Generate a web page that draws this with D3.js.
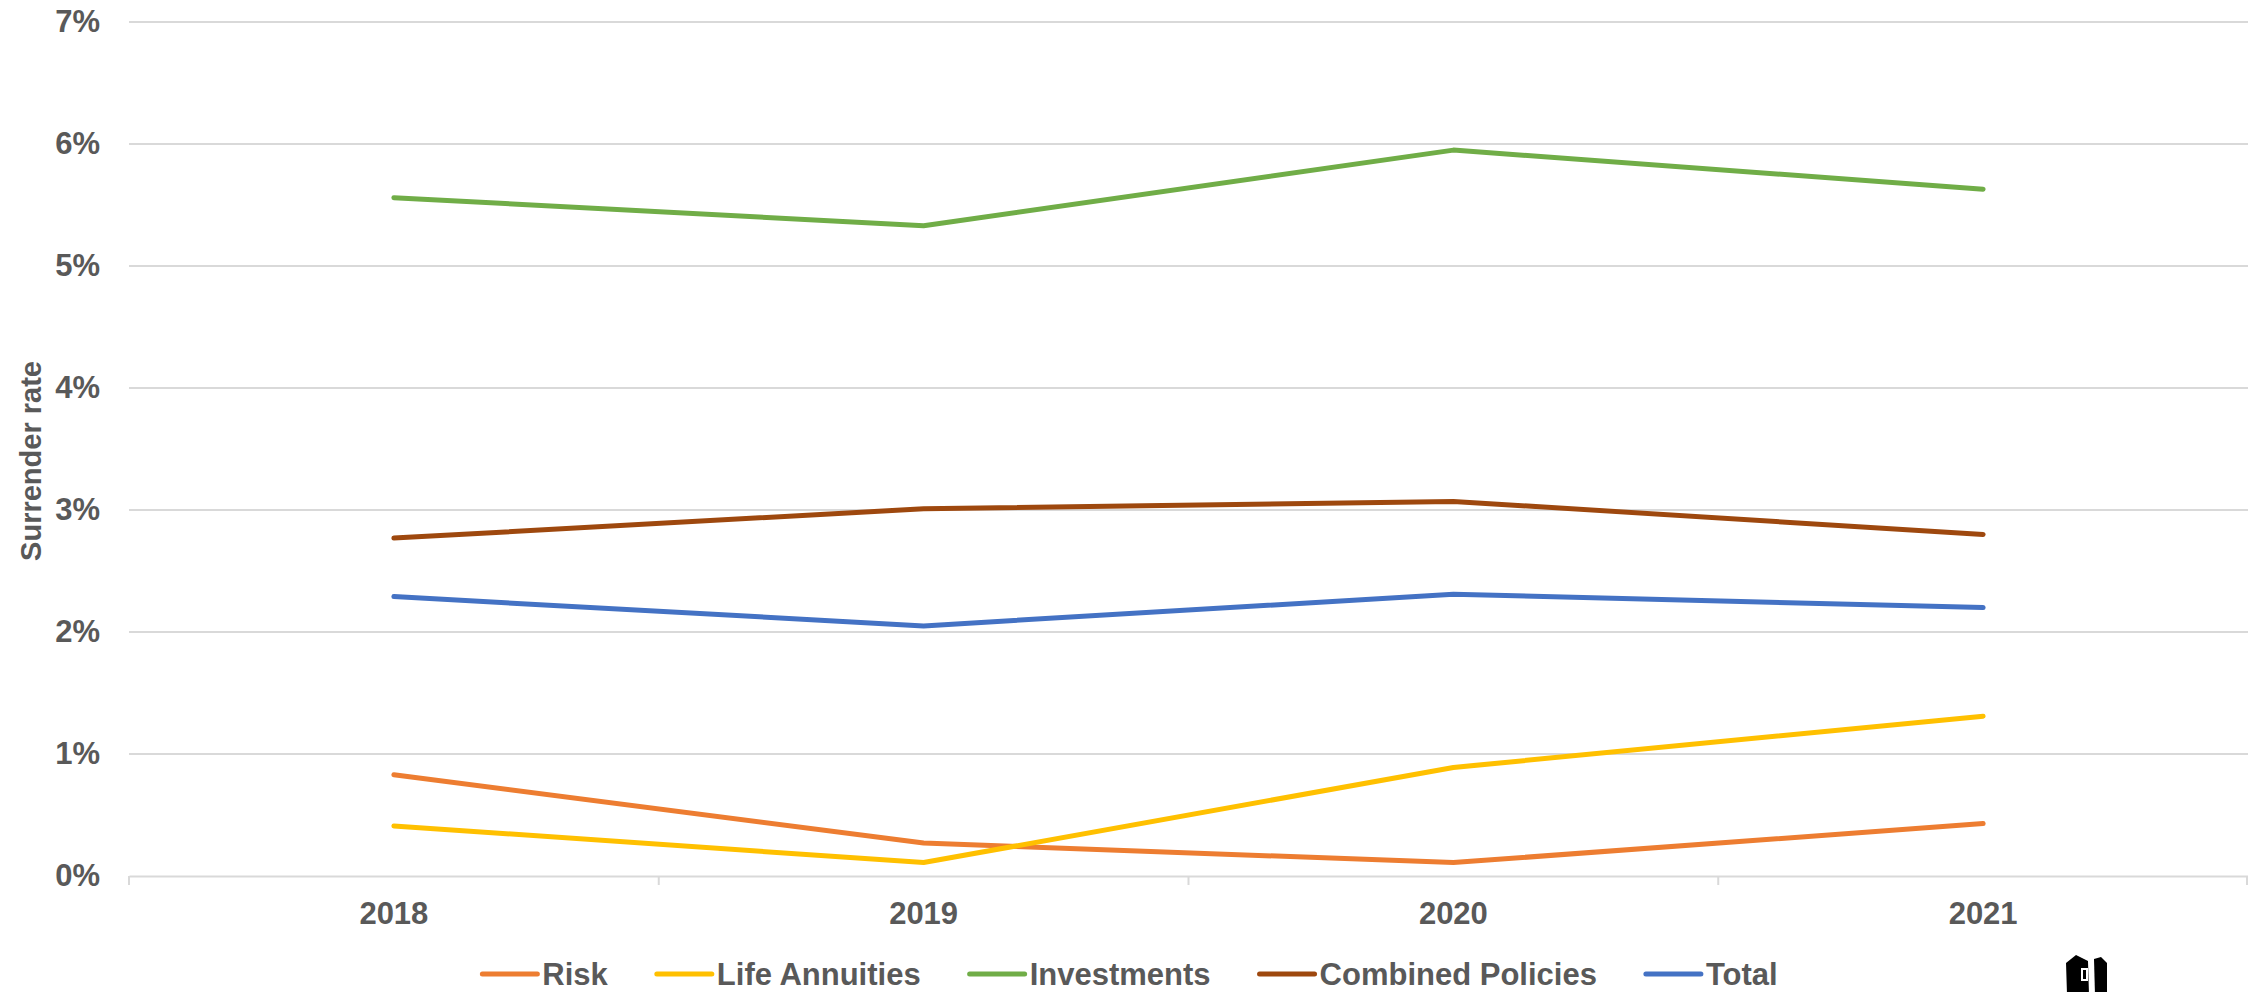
<!DOCTYPE html>
<html>
<head>
<meta charset="utf-8">
<script src="https://cdn.jsdelivr.net/npm/d3@7/dist/d3.min.js"></script>
<style>
  html, body { margin: 0; padding: 0; background: #fff; }
  svg { display: block; }
  text { font-family: "Liberation Sans", Arial, sans-serif; font-weight: bold; fill: #595959; }
</style>
</head>
<body>
<svg id="chart" width="2248" height="992"></svg>
<script>
// Surrender rates by product line, 2018–2021 (percent)
const years = ["2018", "2019", "2020", "2021"];
const seriesNames = ["Risk", "Life Annuities", "Investments", "Combined Policies", "Total"];
const risk = [0.83, 0.27, 0.11, 0.43];
const lifeAnnuities = [0.41, 0.11, 0.89, 1.31];
const investments = [5.56, 5.33, 5.95, 5.63];
const combinedPolicies = [2.77, 3.01, 3.07, 2.80];
const total = [2.29, 2.05, 2.31, 2.20];
const yTicks = [0, 1, 2, 3, 4, 5, 6, 7];
const colors = ["#ED7D31", "#FFC000", "#70AD47", "#9E480E", "#4472C4"];

const seriesValues = [risk, lifeAnnuities, investments, combinedPolicies, total];
const series = seriesNames.map((name, i) => ({ name, color: colors[i], values: seriesValues[i] }));

const svg = d3.select("#chart");
const margin = { left: 129, right: 0, top: 22, bottom: 116 };
const W = 2248, H = 992;

const x = d3.scaleBand().domain(years).range([margin.left, W - margin.right]);
const y = d3.scaleLinear().domain([0, 7]).range([H - margin.bottom, margin.top]);

// horizontal gridlines
svg.append("g")
  .selectAll("line")
  .data(yTicks.filter(t => t > 0))
  .join("line")
  .attr("x1", margin.left).attr("x2", W - margin.right)
  .attr("y1", d => y(d)).attr("y2", d => y(d))
  .attr("stroke", "#d9d9d9").attr("stroke-width", 2);

// y axis labels
const yAxis = svg.append("g")
  .attr("transform", `translate(${margin.left},0)`)
  .call(d3.axisLeft(y).tickValues(yTicks).tickFormat(d => d + "%").tickSize(0).tickPadding(29));
yAxis.select(".domain").remove();
yAxis.selectAll("text")
  .attr("font-size", 31)
  .attr("font-family", "Liberation Sans, Arial, sans-serif")
  .attr("font-weight", "bold")
  .attr("fill", "#595959");

// x axis with ticks on category boundaries
const xAxis = svg.append("g")
  .attr("transform", `translate(0,${y(0)})`)
  .call(d3.axisBottom(x).tickSize(0).tickPadding(26));
xAxis.select(".domain").attr("stroke", "#d9d9d9").attr("stroke-width", 2);
xAxis.selectAll("text")
  .attr("font-size", 31)
  .attr("font-family", "Liberation Sans, Arial, sans-serif")
  .attr("font-weight", "bold")
  .attr("fill", "#595959");

const boundaries = years.map(d => x(d)).concat([x(years[years.length - 1]) + x.bandwidth()]);
svg.append("g")
  .selectAll("line")
  .data(boundaries)
  .join("line")
  .attr("x1", d => Math.min(d, W - 1)).attr("x2", d => Math.min(d, W - 1))
  .attr("y1", y(0)).attr("y2", y(0) + 9)
  .attr("stroke", "#d9d9d9").attr("stroke-width", 2);

// y axis title
svg.append("text")
  .attr("transform", `translate(41,461) rotate(-90)`)
  .attr("text-anchor", "middle")
  .attr("font-size", 29)
  .text("Surrender rate");

// series lines
const line = d3.line()
  .x((d, i) => x(years[i]) + x.bandwidth() / 2)
  .y(d => y(d));

svg.append("g")
  .selectAll("path")
  .data(series)
  .join("path")
  .attr("d", d => line(d.values))
  .attr("fill", "none")
  .attr("stroke", d => d.color)
  .attr("stroke-width", 5)
  .attr("stroke-linecap", "round")
  .attr("stroke-linejoin", "round");

// legend
const legend = svg.append("g");
const itemGap = 49;
let lx = 0;
series.forEach(s => {
  const g = legend.append("g").attr("transform", `translate(${lx},0)`);
  g.append("line")
    .attr("x1", 0).attr("x2", 55).attr("y1", 0).attr("y2", 0)
    .attr("stroke", s.color).attr("stroke-width", 5).attr("stroke-linecap", "round");
  const t = g.append("text")
    .attr("x", 60).attr("y", 11)
    .attr("font-size", 31)
    .text(s.name);
  lx += 60 + t.node().getComputedTextLength() + itemGap;
});
lx -= itemGap;
legend.attr("transform", `translate(${1130 - lx / 2},974)`);

// publisher mark, bottom right
const mark = svg.append("g").attr("transform", "translate(2066,955)");
mark.append("path")
  .attr("d", "M0,8 L10,0 L22,6 L23,40 L1,40 Z")
  .attr("fill", "#000");
mark.append("path")
  .attr("d", "M28,4 L35,2 L41,8 L41,40 L29,40 Z")
  .attr("fill", "#000");
mark.append("rect")
  .attr("x", 15).attr("y", 13).attr("width", 7).attr("height", 13)
  .attr("fill", "#fff");
mark.append("rect")
  .attr("x", 17).attr("y", 15).attr("width", 3).attr("height", 9)
  .attr("fill", "#000");
</script>
</body>
</html>
